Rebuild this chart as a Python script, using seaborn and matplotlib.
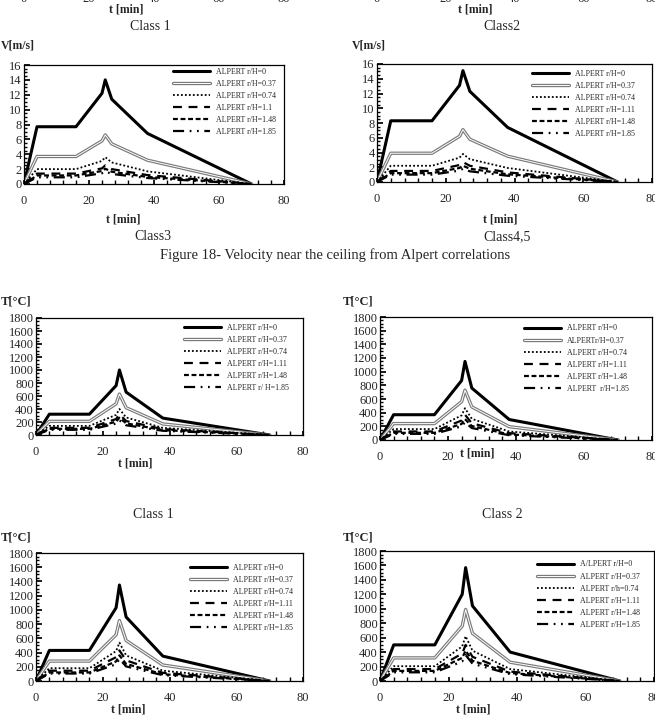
import matplotlib
matplotlib.use("Agg")
import matplotlib.pyplot as plt
import matplotlib.patheffects as pe
from matplotlib.ticker import MultipleLocator
import seaborn as sns

# time axis shared by every curve [min]
t_min = [0, 4, 16, 24, 25, 27, 38, 70]

# velocity near the ceiling [m/s], one row per r/H
v_class3 = [
    [0, 7.7, 7.7, 12.2, 14.0, 11.4, 6.8, 0],
    [0, 3.7, 3.7, 5.8, 6.6, 5.4, 3.2, 0],
    [0, 2.0, 2.0, 3.1, 3.6, 2.9, 1.7, 0],
    [0, 1.4, 1.4, 2.1, 2.5, 2.0, 1.2, 0],
    [0, 1.15, 1.15, 1.75, 2.05, 1.65, 0.95, 0],
    [0, 0.9, 0.9, 1.45, 1.7, 1.35, 0.8, 0],
]
v_class45 = [
    [0, 8.3, 8.3, 13.1, 15.1, 12.3, 7.4, 0],
    [0, 3.9, 3.9, 6.2, 7.1, 5.8, 3.5, 0],
    [0, 2.2, 2.2, 3.3, 3.8, 3.1, 1.9, 0],
    [0, 1.5, 1.5, 2.3, 2.7, 2.2, 1.3, 0],
    [0, 1.2, 1.2, 1.9, 2.2, 1.8, 1.05, 0],
    [0, 1.0, 1.0, 1.55, 1.8, 1.45, 0.85, 0],
]
# ceiling jet temperature [C]
T_a = [
    [0, 320, 320, 760, 1000, 660, 260, 0],
    [0, 210, 210, 480, 630, 420, 170, 0],
    [0, 140, 140, 310, 400, 270, 110, 0],
    [0, 110, 110, 245, 320, 215, 90, 0],
    [0, 95, 95, 205, 265, 180, 75, 0],
    [0, 80, 80, 175, 225, 150, 65, 0],
]
T_b = [
    [0, 370, 370, 870, 1150, 760, 300, 0],
    [0, 240, 240, 560, 730, 485, 195, 0],
    [0, 160, 160, 360, 465, 310, 125, 0],
    [0, 125, 125, 285, 370, 245, 100, 0],
    [0, 105, 105, 235, 305, 205, 82, 0],
    [0, 90, 90, 200, 260, 175, 70, 0],
]
T_c = [
    [0, 430, 430, 1030, 1350, 900, 350, 0],
    [0, 280, 280, 650, 850, 570, 225, 0],
    [0, 180, 180, 420, 540, 360, 145, 0],
    [0, 145, 145, 335, 430, 290, 115, 0],
    [0, 120, 120, 275, 360, 240, 95, 0],
    [0, 105, 105, 235, 310, 205, 82, 0],
]
T_d = [
    [0, 500, 500, 1200, 1570, 1040, 400, 0],
    [0, 320, 320, 760, 990, 660, 260, 0],
    [0, 205, 205, 480, 620, 420, 165, 0],
    [0, 165, 165, 380, 500, 335, 130, 0],
    [0, 140, 140, 320, 420, 280, 110, 0],
    [0, 120, 120, 270, 360, 240, 95, 0],
]

lab_v3 = ["ALPERT r/H=0", "ALPERT r/H=0.37", "ALPERT r/H=0.74",
          "ALPERT r/H=1.1", "ALPERT r/H=1.48", "ALPERT r/H=1.85"]
lab_v45 = ["ALPERT r/H=0", "ALPERT r/H=0.37", "ALPERT r/H=0.74",
           "ALPERT r/H=1.11", "ALPERT r/H=1.48", "ALPERT r/H=1.85"]
lab_Ta = ["ALPERT r/H=0", "ALPERT r/H=0.37", "ALPERT r/H=0.74",
          "ALPERT r/H=1.11", "ALPERT r/H=1.48", "ALPERT r/ H=1.85"]
lab_Tb = ["ALPERT r/H=0", "ALPERTr/H=0.37", "ALPERT r/H=0.74",
          "ALPERT r/H=1.11", "ALPERT r/H=1.48", "ALPERT  r/H=1.85"]
lab_Tc = lab_v45
lab_Td = ["A/LPERT r/H=0", "ALPERT r/H=0.37", "ALPERT r/h=0.74",
          "ALPERT r/H=1.11", "ALPERT r/H=1.48", "ALPERT r/H=1.85"]

x_ticks = [0, 20, 40, 60, 80]

sns.set_theme(style="white")
plt.rcParams["font.family"] = ["Liberation Serif", "DejaVu Serif"]

W, H = 655, 715
fig = plt.figure(figsize=(W / 100, H / 100), dpi=100)


def rect(l, t, r, b):
    return [l / W, 1 - b / H, (r - l) / W, (b - t) / H]


def ftext(x, y, s, ha="center", **kw):
    fig.text(x / W, 1 - y / H, s, ha=ha, va="center", **kw)


styles = [
    dict(color="black", linewidth=2.2, linestyle="-"),
    dict(color="white", linewidth=0.7, linestyle="-",
         path_effects=[pe.Stroke(linewidth=2.4, foreground="#7a7a7a"), pe.Normal()]),
    dict(color="black", linewidth=1.3, linestyle=(0, (1, 1.2))),
    dict(color="black", linewidth=1.6, linestyle=(0, (4, 3))),
    dict(color="black", linewidth=1.6, linestyle=(0, (2.2, 1.2))),
    dict(color="black", linewidth=1.6, linestyle=(0, (5, 2.5, 0.8, 2.5, 0.8, 2.5))),
]


def panel(box, values, labels, ymax, ystep, leg_xy):
    ax = fig.add_axes(rect(*box))
    for vals, lab, st in zip(values, labels, styles):
        sns.lineplot(x=t_min, y=vals, ax=ax, label=lab, errorbar=None, **st)
    ax.set_xlim(0, 80)
    ax.set_ylim(0, ymax)
    ax.set_xticks(x_ticks)
    ax.yaxis.set_major_locator(MultipleLocator(ystep))
    ax.xaxis.set_minor_locator(MultipleLocator(4))
    ax.yaxis.set_minor_locator(MultipleLocator(ystep / 4))
    ax.set_xlabel("")
    ax.set_ylabel("")
    ax.tick_params(which="both", direction="in", color="black",
                   bottom=True, left=True)
    ax.tick_params(axis="x", which="major", length=3, pad=8, labelsize=9)
    ax.tick_params(axis="x", which="minor", length=3)
    ax.tick_params(axis="y", which="major", length=4, pad=1.5, labelsize=9)
    ax.tick_params(axis="y", which="minor", length=2)
    for s in ax.spines.values():
        s.set_color("black")
        s.set_linewidth(0.9)
    l, t, r, b = box
    lx = (leg_xy[0] - l) / (r - l)
    ly = (b - (leg_xy[1] - 4.5)) / (b - t)
    ax.legend(loc="upper left", bbox_to_anchor=(lx, ly), frameon=False,
              fontsize=5.7, handlelength=4.7, handletextpad=0.75,
              labelspacing=0.52, borderpad=0, borderaxespad=0)
    return ax


# cut-off tick labels of the figure above
for l, r in [(24, 284), (377, 652)]:
    stub = fig.add_axes(rect(l, -9, r, -7))
    stub.set_xlim(0, 80)
    stub.set_xticks(x_ticks)
    stub.set_yticks([])
    stub.tick_params(axis="x", length=0, pad=0, labelsize=9)
    for s in stub.spines.values():
        s.set_visible(False)
    stub.patch.set_alpha(0)

ftext(126, 9, "t [min]", fontsize=8.5, fontweight="bold")
ftext(475, 9, "t [min]", fontsize=8.5, fontweight="bold")
ftext(150, 27, "Class 1", fontsize=10)
ftext(502, 27, "Class2", fontsize=10)

# velocity panels
ftext(1, 46, "V[m/s]", ha="left", fontsize=8.5, fontweight="bold")
ftext(352, 46, "V[m/s]", ha="left", fontsize=8.5, fontweight="bold")
panel((24, 65, 284, 184), v_class3, lab_v3, 16, 2, (173, 72))
panel((377, 64, 652, 182), v_class45, lab_v45, 16, 2, (532, 74))
ftext(123, 220, "t [min]", fontsize=8.5, fontweight="bold")
ftext(500, 220, "t [min]", fontsize=8.5, fontweight="bold")
ftext(153, 237, "Class3", fontsize=10)
ftext(507, 237, "Class4,5", fontsize=10)
ftext(335, 255, "Figure 18- Velocity near the ceiling from Alpert correlations",
      fontsize=10.5)

# temperature panels
ftext(1, 302, "T[°C]", ha="left", fontsize=9, fontweight="bold")
ftext(343, 302, "T[°C]", ha="left", fontsize=9, fontweight="bold")
panel((36, 318, 303, 435), T_a, lab_Ta, 1800, 200, (184, 328))
panel((380, 317, 652, 440), T_b, lab_Tb, 1800, 200, (524, 329))
ftext(135, 463, "t [min]", fontsize=8.5, fontweight="bold")
ftext(477, 453, "t [min]", fontsize=8.5, fontweight="bold")

ftext(153, 515, "Class 1", fontsize=10)
ftext(502, 515, "Class 2", fontsize=10)
ftext(1, 537, "T[°C]", ha="left", fontsize=9, fontweight="bold")
ftext(343, 537, "T[°C]", ha="left", fontsize=9, fontweight="bold")
panel((36, 553, 303, 681), T_c, lab_Tc, 1800, 200, (190, 568))
panel((380, 551, 654, 681), T_d, lab_Td, 1800, 200, (537, 565))
ftext(128, 710, "t [min]", fontsize=8.5, fontweight="bold")
ftext(473, 710, "t [min]", fontsize=8.5, fontweight="bold")

fig.savefig("out.png", dpi=100)
